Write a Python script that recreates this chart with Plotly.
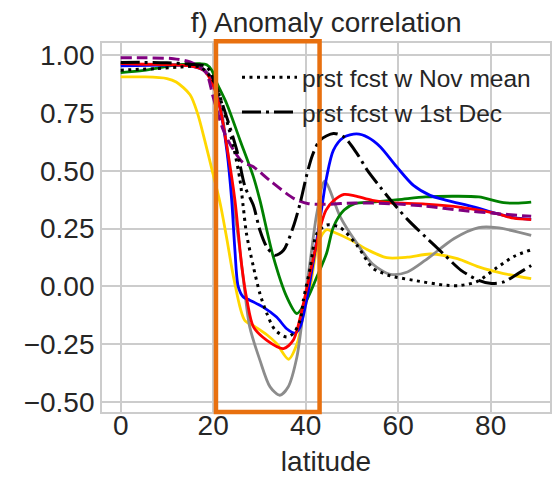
import plotly.graph_objects as go

# ---------------- data ----------------
yellow_lat = [0, 5, 10, 12, 15, 16.6, 18.2, 19.8, 21.5, 23.0, 24.5, 26.8, 29.1, 31.6, 33.7, 36.3, 38.2, 39.5, 41.0, 42.7, 44.5, 46.0, 49.8, 53.6, 57.5, 62.0, 67.0, 72.8, 77.4, 82.8, 88.75]
yellow_val = [0.907, 0.907, 0.90, 0.885, 0.83, 0.75, 0.63, 0.50, 0.36, 0.20, 0.03, -0.147, -0.176, -0.21, -0.248, -0.316, -0.245, -0.12, 0.0, 0.186, 0.245, 0.235, 0.20, 0.156, 0.124, 0.126, 0.14, 0.12, 0.084, 0.055, 0.033]

gray_lat = [0, 10, 15, 18, 20, 21.5, 23, 24.3, 25.5, 26.7, 27.9, 30.1, 32.3, 34.4, 36.2, 38.1, 39.5, 41.0, 42.4, 44.1, 47.5, 50.6, 54.4, 58.3, 62.0, 65.9, 72.1, 77.4, 81.3, 88.75]
gray_val = [0.96, 0.962, 0.958, 0.94, 0.89, 0.79, 0.60, 0.37, 0.20, 0.0, -0.176, -0.32, -0.436, -0.472, -0.436, -0.306, -0.104, 0.113, 0.315, 0.456, 0.30, 0.20, 0.098, 0.052, 0.062, 0.113, 0.207, 0.254, 0.254, 0.221]

blue_lat = [0, 10, 15, 18, 20, 21.5, 23, 24, 24.7, 25.4, 26.5, 27.9, 30.8, 33.7, 35.9, 37.7, 38.8, 40.2, 41.7, 43.4, 44.5, 46.0, 48.2, 51.0, 53.5, 56.1, 59.7, 63.3, 66.9, 70.5, 76.3, 81.3, 84.9, 88.75]
blue_val = [0.955, 0.958, 0.955, 0.935, 0.88, 0.77, 0.58, 0.373, 0.156, 0.0, -0.046, -0.06, -0.09, -0.133, -0.184, -0.203, -0.176, -0.06, 0.113, 0.33, 0.47, 0.59, 0.645, 0.66, 0.645, 0.605, 0.517, 0.437, 0.394, 0.372, 0.344, 0.315, 0.298, 0.29]

green_lat = [0, 5, 11.4, 17.2, 18.6, 19.7, 20.7, 22.9, 25.8, 28.7, 30.1, 33.0, 35.9, 38.1, 40.2, 42.4, 44.5, 46.0, 48.3, 50.6, 54.4, 60.0, 65.9, 72.0, 77.4, 82.8, 85.5, 88.75]
green_val = [0.926, 0.935, 0.957, 0.964, 0.96, 0.936, 0.885, 0.792, 0.633, 0.474, 0.373, 0.127, -0.046, -0.118, -0.06, 0.04, 0.142, 0.257, 0.33, 0.358, 0.365, 0.375, 0.387, 0.39, 0.387, 0.362, 0.36, 0.365]

red_lat = [0, 5, 10, 15, 18, 20, 21.5, 23, 24.7, 26.2, 27.3, 28.7, 31.6, 35.2, 37.3, 39.5, 41.7, 43.5, 44.4, 46.0, 48.3, 50.6, 54.4, 58.3, 65.9, 73.6, 81.3, 85.0, 88.75]
red_val = [0.965, 0.962, 0.96, 0.955, 0.935, 0.87, 0.77, 0.60, 0.373, 0.084, -0.06, -0.176, -0.234, -0.27, -0.234, -0.075, 0.127, 0.28, 0.33, 0.37, 0.398, 0.392, 0.372, 0.362, 0.356, 0.342, 0.315, 0.295, 0.289]

purple_lat = [0, 5, 11.4, 15, 17.1, 18.6, 20, 22.2, 24.4, 26.5, 28.5, 32.2, 37.5, 40.6, 44.0, 50.6, 58.3, 65.9, 73.6, 81.3, 88.75]
purple_val = [0.99, 0.99, 0.986, 0.972, 0.95, 0.921, 0.82, 0.676, 0.59, 0.535, 0.52, 0.459, 0.38, 0.358, 0.355, 0.361, 0.358, 0.347, 0.329, 0.315, 0.303]

nov_lat = [0, 4, 7.8, 12.8, 17.2, 19.7, 20.7, 22.5, 24.4, 25.8, 26.5, 27.2, 28.7, 30.1, 31.6, 33.4, 35.9, 37.3, 38.8, 39.5, 41.0, 42.4, 44.5, 47.4, 51.0, 54.4, 56.1, 58.3, 63.3, 70.5, 73.6, 77.0, 81.3, 85.1, 88.75]
nov_val = [0.936, 0.94, 0.943, 0.95, 0.95, 0.90, 0.864, 0.748, 0.604, 0.46, 0.344, 0.228, 0.084, -0.032, -0.118, -0.19, -0.22, -0.205, -0.148, -0.06, 0.084, 0.228, 0.265, 0.255, 0.18, 0.08, 0.062, 0.045, 0.026, 0.004, 0.004, 0.02, 0.08, 0.13, 0.158]

dec_lat = [0, 5, 10, 15, 18.6, 20.7, 22.9, 25.1, 26.9, 28.7, 30.1, 31.6, 33.4, 35.2, 37.3, 38.8, 40.2, 41.5, 43.1, 46.0, 48.2, 51.1, 53.3, 56.1, 58.3, 62.0, 65.9, 69.7, 73.6, 77.4, 80.2, 82.8, 85.9, 88.75]
dec_val = [0.97, 0.97, 0.968, 0.962, 0.95, 0.864, 0.734, 0.59, 0.43, 0.35, 0.243, 0.17, 0.134, 0.156, 0.257, 0.36, 0.48, 0.57, 0.633, 0.662, 0.648, 0.575, 0.503, 0.43, 0.375, 0.29, 0.214, 0.142, 0.069, 0.026, 0.012, 0.019, 0.055, 0.09]

legend_names = ["prst fcst w Nov mean", "prst fcst w 1st Dec"]
title_text = "f) Anomaly correlation"
x_title = "latitude"
x_ticks = [0, 20, 40, 60, 80]
y_ticks = [-0.5, -0.25, 0.0, 0.25, 0.5, 0.75, 1.0]
box_lat = [20.6, 43.0]   # highlighted latitude band

# ---------------- figure ----------------
FONT = "Liberation Sans, Arial, sans-serif"
TXT = "#262626"
GRID = "#cccccc"

fig = go.Figure()

def add(lat, val, color, dash="solid", width=2.8, name=None, show=False):
    fig.add_trace(go.Scatter(
        x=lat, y=val, mode="lines", name=name, showlegend=show,
        line=dict(color=color, width=width, dash=dash, shape="spline", smoothing=0.8),
        hoverinfo="skip"))

add(yellow_lat, yellow_val, "#FFD700")
add(gray_lat, gray_val, "#8c8c8c")
add(green_lat, green_val, "#008000")
add(blue_lat, blue_val, "#0000FF")
add(red_lat, red_val, "#FF0000")
add(purple_lat, purple_val, "#800080", dash="11px,5px", width=3)
add(nov_lat, nov_val, "black", dash="3px,4.5px", width=3, name=legend_names[0], show=True)
add(dec_lat, dec_val, "black", dash="19px,5px,3px,5px", width=3, name=legend_names[1], show=True)

xr = [-4.04, 92.82]
yr = [-0.5446, 1.054]

def xpaper(v):
    return (v - xr[0]) / (xr[1] - xr[0])

fig.add_shape(type="rect", xref="paper", yref="paper",
              x0=xpaper(box_lat[0]), x1=xpaper(box_lat[1]), y0=0.0, y1=1.005,
              line=dict(color="#E8700F", width=4.5), layer="above")

fig.update_layout(
    width=556, height=477,
    margin=dict(l=102, r=6, t=43, b=65, autoexpand=False),
    paper_bgcolor="white", plot_bgcolor="white",
    font=dict(family=FONT, size=28, color=TXT),
    title=dict(text=title_text, x=0.5865, xanchor="center", y=0.953, yanchor="middle",
               font=dict(size=28, color=TXT)),
    showlegend=True,
    legend=dict(x=0.3013, y=0.968, xanchor="left", yanchor="top",
                bgcolor="rgba(0,0,0,0)", borderwidth=0,
                font=dict(size=24.5, color=TXT), itemwidth=55,
                tracegroupgap=0),
    xaxis=dict(range=xr, tickvals=x_ticks, showgrid=True, gridcolor=GRID, gridwidth=1.5,
               zeroline=False, showline=True, linecolor=GRID, linewidth=1.8, mirror=True,
               ticks="", automargin=False, ticklabelstandoff=-13,
               tickfont=dict(size=28, color=TXT),
               title=dict(text=x_title, font=dict(size=28, color=TXT), standoff=13)),
    yaxis=dict(range=yr, tickvals=y_ticks, tickformat=".2f", showgrid=True, gridcolor=GRID,
               gridwidth=1.5, zeroline=False, showline=True, linecolor=GRID, linewidth=1.8,
               mirror=True, ticks="", automargin=False,
               tickfont=dict(size=28, color=TXT)),
)

fig.write_html("out.html")
